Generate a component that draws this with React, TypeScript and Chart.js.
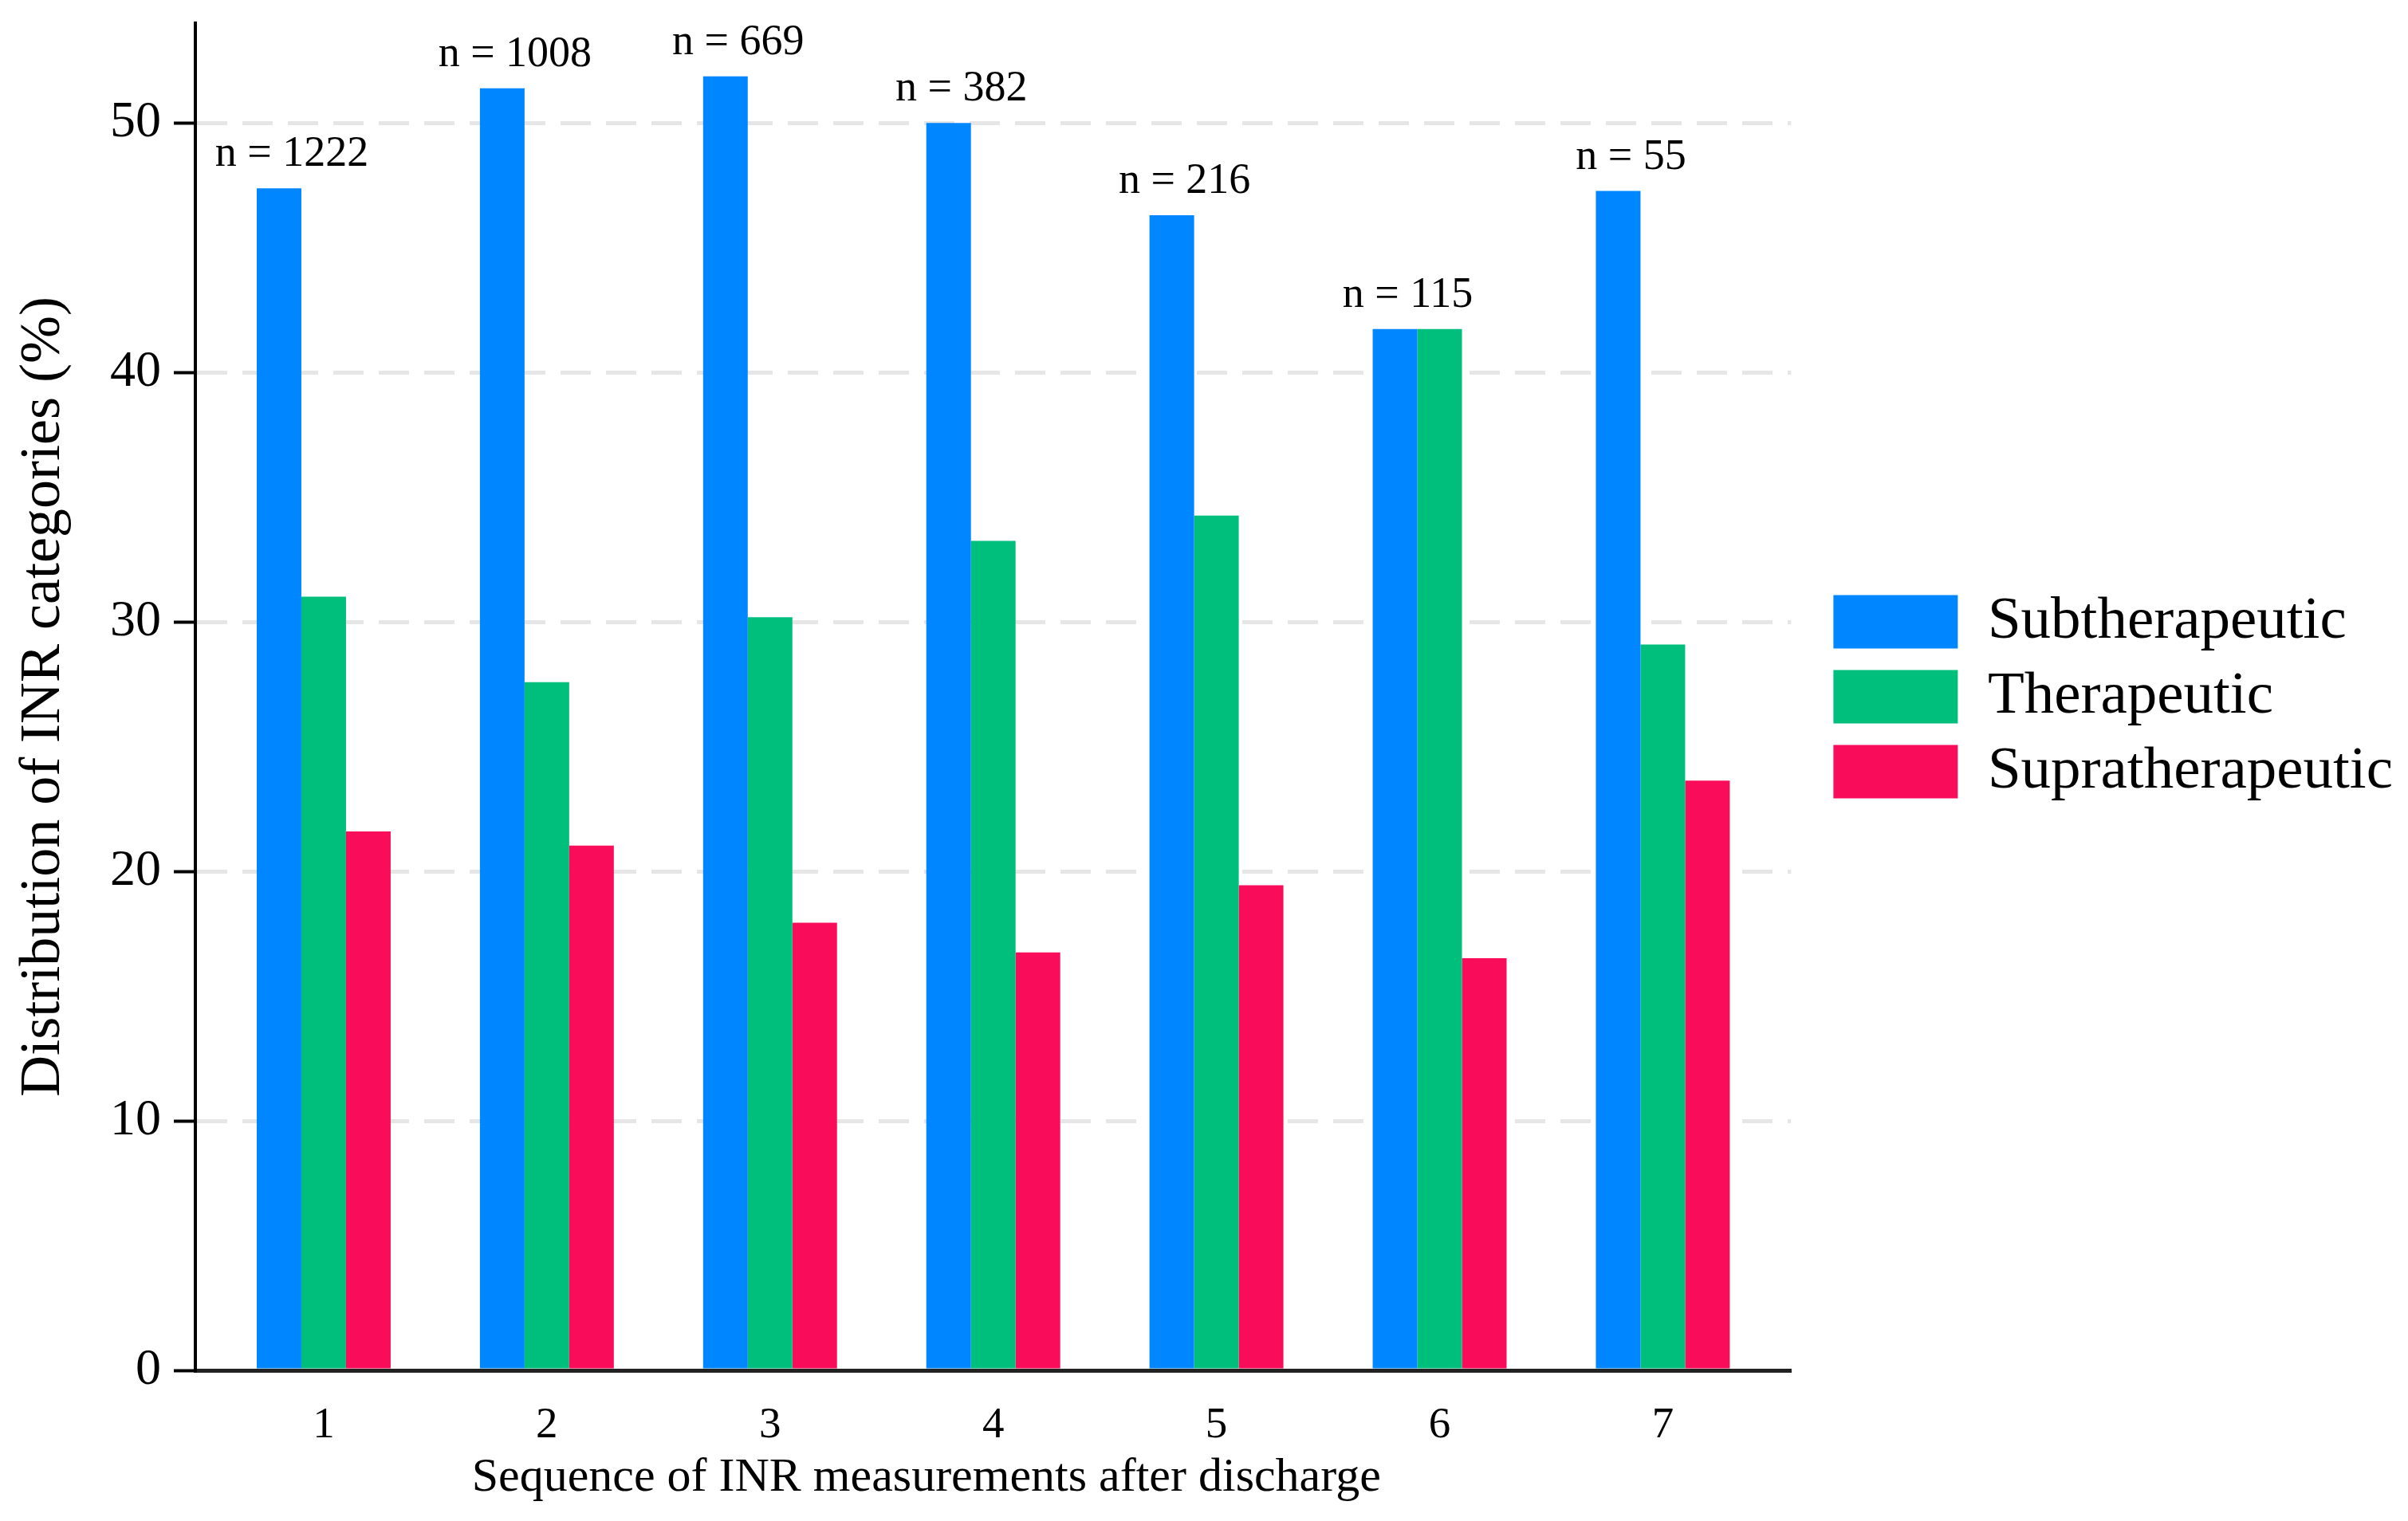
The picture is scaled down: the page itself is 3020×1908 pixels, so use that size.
import React, { useEffect, useRef } from "react";
import { Chart, registerables } from "chart.js";

Chart.register(...registerables);

// ---- data ----
const CATEGORIES = [1, 2, 3, 4, 5, 6, 7];
const SAMPLE_SIZES = [1222, 1008, 669, 382, 216, 115, 55];
const SUBTHERAPEUTIC = [47.38, 51.39, 51.87, 50.0, 46.3, 41.74, 47.27];
const THERAPEUTIC = [31.01, 27.58, 30.19, 33.25, 34.26, 41.74, 29.09];
const SUPRATHERAPEUTIC = [21.6, 21.03, 17.94, 16.75, 19.44, 16.52, 23.64];
const SERIES_NAMES = ["Subtherapeutic", "Therapeutic", "Supratherapeutic"];
const Y_TICKS = [0, 10, 20, 30, 40, 50];
const X_TITLE = "Sequence of INR measurements after discharge";
const Y_TITLE = "Distribution of INR categories (%)";

// ---- style ----
const FONT = "'Liberation Serif', 'Times New Roman', serif";
const COLORS = ["#0087FF", "#00BF7D", "#F90C5A"];
const X_TITLE_AT = 3.7;

const annotate = {
  id: "annotate",
  afterDatasetsDraw(chart: any) {
    const ctx = chart.ctx;
    const meta = chart.getDatasetMeta(0);
    ctx.save();
    ctx.fillStyle = "#000";
    ctx.textAlign = "center";
    ctx.textBaseline = "alphabetic";
    ctx.font = `54px ${FONT}`;
    meta.data.forEach((el: any, i: number) => {
      ctx.fillText(`n = ${SAMPLE_SIZES[i]}`, el.x + 16, el.y - 28);
    });
    const xs = chart.scales.x;
    ctx.font = `60px ${FONT}`;
    ctx.fillText(X_TITLE, xs.getPixelForValue(X_TITLE_AT), chart.chartArea.bottom + 151);
    ctx.restore();
  },
};

export default function App() {
  const ref = useRef<HTMLCanvasElement | null>(null);

  useEffect(() => {
    if (!ref.current) return;
    const series = [SUBTHERAPEUTIC, THERAPEUTIC, SUPRATHERAPEUTIC];
    const chart = new Chart(ref.current, {
      type: "bar",
      data: {
        datasets: series.map((vals, k) => ({
          label: SERIES_NAMES[k],
          data: CATEGORIES.map((c, i) => ({ x: c, y: vals[i] })),
          backgroundColor: COLORS[k],
          borderWidth: 0,
          categoryPercentage: 0.6,
          barPercentage: 1.0,
          xAxisID: "x",
          yAxisID: "y",
        })),
      },
      options: {
        responsive: false,
        animation: false,
        layout: { padding: { top: 21, left: 0, right: 1, bottom: 0 } },
        plugins: {
          tooltip: { enabled: false },
          legend: {
            position: "right",
            align: "center",
            fullSize: false,
            maxWidth: 900,
            labels: {
              boxWidth: 156,
              boxHeight: 67,
              padding: 19,
              color: "#000",
              font: { family: FONT, size: 75 },
            },
          },
        },
        scales: {
          x: {
            type: "linear",
            min: 0.425,
            max: 7.575,
            offset: false,
            afterBuildTicks: (s: any) => {
              s.ticks = CATEGORIES.map((value) => ({ value }));
            },
            afterFit: (s: any) => {
              s.height = 181;
              s.paddingLeft = 0;
              s.paddingRight = 0;
            },
            ticks: { color: "#000", font: { family: FONT, size: 55 }, padding: 37 },
            grid: { display: false, drawTicks: false },
            border: { display: true, color: "#222", width: 5 },
          },
          y: {
            type: "linear",
            min: 0,
            max: 54,
            afterBuildTicks: (s: any) => {
              s.ticks = Y_TICKS.map((value) => ({ value }));
            },
            afterFit: (s: any) => {
              s.width = 237;
              s.paddingTop = 0;
              s.paddingBottom = 0;
            },
            ticks: { color: "#000", font: { family: FONT, size: 64 }, padding: 16 },
            grid: {
              color: (c: any) => (c.tick && c.tick.value === 0 ? "rgba(0,0,0,0)" : "#e6e6e6"),
              lineWidth: 5,
              tickColor: "#000",
              tickWidth: 4,
              tickLength: 27,
              tickBorderDash: [],
            },
            border: { display: true, color: "#000", width: 4, dash: [38, 19] },
            title: {
              display: true,
              text: Y_TITLE,
              color: "#000",
              font: { family: FONT, size: 72 },
              padding: { top: 4, bottom: 0 },
            },
          },
          spacer: {
            type: "linear",
            position: "right",
            display: true,
            grid: { display: false, drawTicks: false },
            ticks: { display: false },
            border: { display: false },
            afterFit: (s: any) => {
              s.width = 34;
            },
          },
        },
      } as any,
      plugins: [annotate],
    });
    return () => chart.destroy();
  }, []);

  return (
    <div style={{ width: 3004, height: 1892 }}>
      <canvas ref={ref} width={3004} height={1892} style={{ display: "block" }} />
    </div>
  );
}
